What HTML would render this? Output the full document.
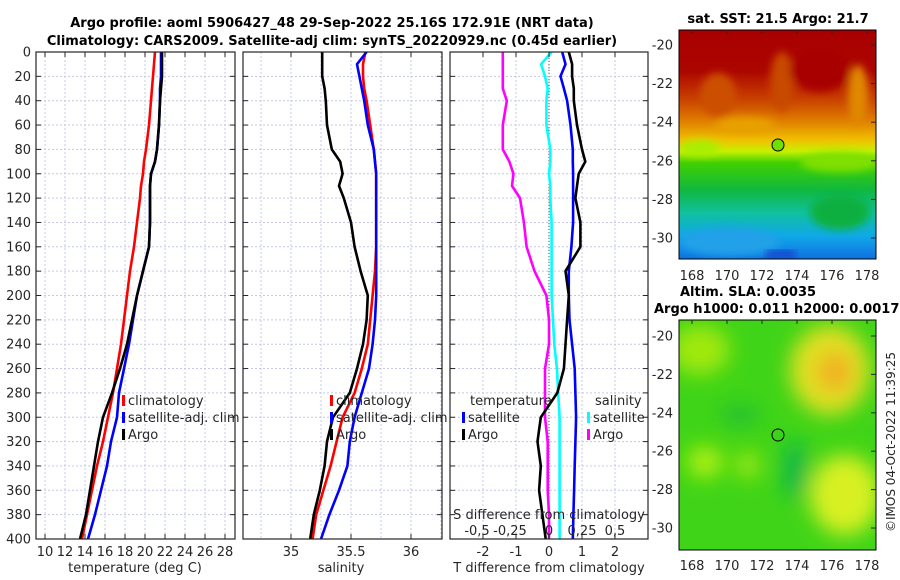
<!DOCTYPE html>
<html><head><meta charset="utf-8"><style>
html,body{margin:0;padding:0;background:#fff;width:900px;height:580px;overflow:hidden}
svg text{font-family:"DejaVu Sans","Liberation Sans",sans-serif;fill:#262626}
.b{font-weight:bold;fill:#000}
</style></head><body>
<svg id="fig" width="900" height="580" viewBox="0 0 900 580" xmlns="http://www.w3.org/2000/svg">
<defs>
<filter id="blur4"><feGaussianBlur stdDeviation="4"/></filter>
<filter id="blur10"><feGaussianBlur stdDeviation="10"/></filter>
<clipPath id="c1"><rect x="679" y="30" width="197" height="229"/></clipPath>
<clipPath id="c2"><rect x="679" y="320" width="197" height="230"/></clipPath>
<linearGradient id="sstg" x1="0" y1="0" x2="0" y2="1">
<stop offset="0" stop-color="#a80000"/><stop offset="0.18" stop-color="#ac0600"/>
<stop offset="0.3" stop-color="#c84000"/><stop offset="0.4" stop-color="#e08000"/>
<stop offset="0.48" stop-color="#f0c000"/><stop offset="0.53" stop-color="#c8f000"/>
<stop offset="0.58" stop-color="#40d000"/><stop offset="0.7" stop-color="#10b840"/>
<stop offset="0.8" stop-color="#10c0a0"/><stop offset="0.9" stop-color="#10a8e8"/>
<stop offset="1" stop-color="#1070e0"/></linearGradient>
</defs>
<g id="titles">
<text class="b" x="332" y="27" font-size="13" text-anchor="middle">Argo profile: aoml 5906427_48 29-Sep-2022 25.16S 172.91E (NRT data)</text>
<text class="b" x="332" y="45" font-size="13" text-anchor="middle">Climatology: CARS2009. Satellite-adj clim: synTS_20220929.nc (0.45d earlier)</text>
</g>
<g id="p1"></g><g id="p2"></g><g id="p3"></g>
<g id="map1">
<g clip-path="url(#c1)">
<rect x="679" y="30" width="197" height="229" fill="url(#sstg)"/>
<g filter="url(#blur4)">
<ellipse cx="718" cy="95" rx="18" ry="22" fill="#cc5000"/>
<ellipse cx="782" cy="82" rx="12" ry="30" fill="#c84800"/>
<ellipse cx="858" cy="95" rx="10" ry="30" fill="#e08800"/>
<ellipse cx="820" cy="70" rx="30" ry="22" fill="#a80000"/>
<ellipse cx="745" cy="125" rx="30" ry="8" fill="#e8a000"/>
<ellipse cx="840" cy="162" rx="40" ry="10" fill="#80e000"/>
<ellipse cx="840" cy="212" rx="30" ry="18" fill="#10b040"/>
<ellipse cx="730" cy="242" rx="50" ry="14" fill="#20a0e8"/>
<ellipse cx="700" cy="148" rx="20" ry="8" fill="#a8ee00"/>
</g>
<rect x="766" y="250" width="30" height="9" fill="#1848d0" filter="url(#blur4)"/>
</g>
<rect x="679" y="30" width="197" height="229" fill="none" stroke="#000" stroke-width="1"/>
<circle cx="778" cy="145" r="6" fill="#70e000" stroke="#000"/>
<text class="b" x="778" y="23" font-size="13" text-anchor="middle">sat. SST: 21.5 Argo: 21.7</text>
</g>
<g id="map2">
<g clip-path="url(#c2)">
<rect x="679" y="320" width="197" height="230" fill="#40d418"/>
<g filter="url(#blur10)">
<ellipse cx="830" cy="370" rx="40" ry="45" fill="#e0e020"/>
<ellipse cx="835" cy="372" rx="18" ry="20" fill="#f0b020"/>
<ellipse cx="845" cy="495" rx="35" ry="40" fill="#d8f020"/>
<ellipse cx="700" cy="350" rx="30" ry="25" fill="#a0e810"/>
<ellipse cx="705" cy="462" rx="18" ry="16" fill="#b0f010"/>
<ellipse cx="748" cy="465" rx="12" ry="14" fill="#a0ea10"/>
<ellipse cx="795" cy="470" rx="12" ry="30" fill="#10b848"/>
<ellipse cx="740" cy="415" rx="20" ry="10" fill="#20c030"/>
</g>
</g>
<rect x="679" y="320" width="197" height="230" fill="none" stroke="#000" stroke-width="1"/>
<circle cx="778" cy="435" r="6" fill="none" stroke="#000"/>
<text class="b" x="680" y="296" font-size="13">Altim. SLA: 0.0035</text>
<text class="b" x="654" y="313" font-size="13">Argo h1000: 0.011 h2000: 0.0017</text>
</g>
<text transform="translate(895,442) rotate(-90)" font-size="12" text-anchor="middle">©IMOS 04-Oct-2022 11:39:25</text>
</svg>
<script>
const depths=[0,10,20,30,40,60,80,90,100,110,120,140,160,180,200,220,240,260,280,300,320,340,360,380,400];
const tempArgo=[21.7,21.7,21.7,21.6,21.5,21.4,21.2,21.0,20.6,20.5,20.5,20.5,20.4,19.8,19.2,18.7,18.2,17.5,16.7,15.8,15.3,14.9,14.5,14.1,13.5];
const tempClim=[21.0,20.9,20.8,20.7,20.6,20.4,20.1,19.9,19.8,19.6,19.5,19.2,18.9,18.5,18.2,17.9,17.6,17.2,16.8,16.3,15.8,15.2,14.7,14.2,13.7];
const tempSat=[21.6,21.6,21.6,21.5,21.5,21.4,21.2,21.0,20.6,20.5,20.5,20.5,20.4,19.8,19.2,18.8,18.4,17.9,17.4,17.2,16.6,16.2,15.6,15.0,14.3];
const salArgo=[35.26,35.26,35.26,35.28,35.29,35.30,35.34,35.41,35.43,35.40,35.44,35.50,35.53,35.58,35.64,35.63,35.60,35.55,35.49,35.35,35.30,35.28,35.24,35.19,35.16];
const salClim=[35.62,35.60,35.60,35.61,35.63,35.66,35.69,35.70,35.71,35.71,35.71,35.71,35.71,35.70,35.68,35.66,35.64,35.59,35.53,35.43,35.38,35.33,35.27,35.21,35.18];
const salSat=[35.63,35.55,35.57,35.59,35.61,35.64,35.69,35.70,35.71,35.71,35.71,35.71,35.71,35.71,35.71,35.70,35.68,35.65,35.59,35.53,35.49,35.47,35.40,35.32,35.25];
const dTArgo=[0.6,0.7,0.7,0.75,0.75,0.85,1.0,1.1,0.9,0.85,0.8,0.95,0.95,0.5,0.6,0.55,0.5,0.45,0.25,-0.25,-0.35,-0.25,-0.3,-0.2,-0.1];
const dTSat=[0.4,0.5,0.35,0.45,0.55,0.65,0.72,0.72,0.73,0.73,0.73,0.73,0.68,0.6,0.6,0.62,0.7,0.78,0.8,0.82,0.8,0.78,0.76,0.74,0.72];
const dSSat=[0.02,-0.06,-0.03,-0.01,-0.02,-0.02,0.01,0.01,0,0.01,0.01,0.02,0.02,0.02,0.02,0.03,0.04,0.06,0.07,0.08,0.08,0.08,0.08,0.08,0.08];
const dSArgo=[-0.35,-0.35,-0.35,-0.35,-0.32,-0.35,-0.35,-0.3,-0.27,-0.28,-0.22,-0.19,-0.17,-0.11,-0.02,0,0,-0.03,-0.03,-0.03,-0.01,-0.01,-0.01,0,0];
const tTicks=[10,12,14,16,18,20,22,24,26,28];
const sTicks=[35,35.5,36];
const dTTicks=[-2,-1,0,1,2];
const dSTicks=[-0.5,-0.25,0,0.25,0.5];
const dSTickLabels=["-0,5","-0,25","0","0,25","0,5"];
const depthTicks=[0,20,40,60,80,100,120,140,160,180,200,220,240,260,280,300,320,340,360,380,400];
const latTicks=[-20,-22,-24,-26,-28,-30];
const lonTicks=[168,170,172,174,176,178];

const NS='http://www.w3.org/2000/svg';
const Y0=52,Y1=539;
const yD=d=>Y0+(d/400)*(Y1-Y0);
function mk(tag,attrs,parent){const e=document.createElementNS(NS,tag);for(const k in attrs)e.setAttribute(k,attrs[k]);parent.appendChild(e);return e;}
function txt(parent,x,y,s,anchor,size){const t=mk('text',{x:x,y:y,'font-size':size||12,'text-anchor':anchor||'middle'},parent);t.textContent=s;return t;}
function frame(g,x0,x1,gridXs,yTicksLabels){
  depthTicks.forEach(d=>{const l=mk('line',{x1:x0,x2:x1,y1:yD(d),y2:yD(d),stroke:'#c4c8e6','stroke-dasharray':'2,2','stroke-width':1},g);
    });
  gridXs.forEach(x=>{const l=mk('line',{x1:x,x2:x,y1:Y0,y2:Y1,stroke:'#c4c8e6','stroke-dasharray':'2,2','stroke-width':1},g);
    });
  depthTicks.forEach(d=>{mk('line',{x1:x0,x2:x0+5,y1:yD(d),y2:yD(d),stroke:'#262626'},g);mk('line',{x1:x1-5,x2:x1,y1:yD(d),y2:yD(d),stroke:'#262626'},g);
    if(yTicksLabels){const t=txt(g,x0-5,yD(d)+4.5,String(d),'end',13);}});
}
function border(g,x0,x1,name){const r=mk('rect',{x:x0,y:Y0,width:x1-x0,height:Y1-Y0,fill:'none',stroke:'#262626','stroke-width':1.2},g);
  }
function line(g,vals,fx,color,name,w){const pts=vals.map((v,i)=>fx(v).toFixed(1)+','+yD(depths[i]).toFixed(1)).join(' ');
  const p=mk('polyline',{points:pts,fill:'none',stroke:color,'stroke-width':w||2.6,'stroke-linejoin':'round'},g);
  }
function legItem(g,x,y,color,label,name){const r=mk('rect',{x:x,y:y-10,width:3,height:11,fill:color},g);
  
  const t=txt(g,x+6,y,label,'start',13);}

(function(){const g=document.getElementById('p1');
const x0=36,x1=235,fx=t=>45+(t-10)*10;
frame(g,x0,x1,tTicks.map(fx),true);
line(g,tempClim,fx,'#ff0000','temperature-climatology-line');
line(g,tempSat,fx,'#0000ff','temperature-satellite-line');
line(g,tempArgo,fx,'#000000','temperature-argo-line');
border(g,x0,x1,'temperature-axes');
tTicks.forEach(t=>{mk('line',{x1:fx(t),x2:fx(t),y1:Y1,y2:Y1-5,stroke:'#262626'},g);mk('line',{x1:fx(t),x2:fx(t),y1:Y0,y2:Y0+5,stroke:'#262626'},g);
 const l=txt(g,fx(t),556,String(t),'middle',13);});
const xl=txt(g,135,572,'temperature (deg C)','middle',13);
legItem(g,122,405,'#ff0000','climatology','legend-climatology');
legItem(g,122,422,'#0000ff','satellite-adj. clim','legend-satellite-adj');
legItem(g,122,439,'#000000','Argo','legend-argo');
})();
(function(){const g=document.getElementById('p2');
const x0=243,x1=442,fx=s=>291+(s-35)*120;
frame(g,x0,x1,[34.75,35,35.25,35.5,35.75,36,36.25].map(fx).filter(x=>x>x0&&x<x1),false);
line(g,salClim,fx,'#ff0000','salinity-climatology-line');
line(g,salSat,fx,'#0000ff','salinity-satellite-line');
line(g,salArgo,fx,'#000000','salinity-argo-line');
border(g,x0,x1,'salinity-axes');
sTicks.forEach(s=>{mk('line',{x1:fx(s),x2:fx(s),y1:Y1,y2:Y1-5,stroke:'#262626'},g);mk('line',{x1:fx(s),x2:fx(s),y1:Y0,y2:Y0+5,stroke:'#262626'},g);
 const l=txt(g,fx(s),556,String(s),'middle',13);});
const xl=txt(g,341,572,'salinity','middle',13);
legItem(g,330,405,'#ff0000','climatology','legend-climatology-s');
legItem(g,330,422,'#0000ff','satellite-adj. clim','legend-satellite-adj-s');
legItem(g,330,439,'#000000','Argo','legend-argo-s');
})();
(function(){const g=document.getElementById('p3');
const x0=450,x1=648,fT=t=>549+t*33,fS=s=>549+s*132;
frame(g,x0,x1,dTTicks.map(fT),false);
const z=mk('line',{x1:549,x2:549,y1:Y0,y2:Y1,stroke:'#555','stroke-dasharray':'1,2'},g);
line(g,dSSat,fS,'#00ffff','salinity-diff-satellite-line');
line(g,dSArgo,fS,'#ff00ff','salinity-diff-argo-line');
line(g,dTSat,fT,'#0000ff','temperature-diff-satellite-line');
line(g,dTArgo,fT,'#000000','temperature-diff-argo-line');
border(g,x0,x1,'difference-axes');
dTTicks.forEach(t=>{mk('line',{x1:fT(t),x2:fT(t),y1:Y1,y2:Y1-5,stroke:'#262626'},g);mk('line',{x1:fT(t),x2:fT(t),y1:Y0,y2:Y0+5,stroke:'#262626'},g);
 const l=txt(g,fT(t),556,String(t),'middle',13);});
dSTicks.forEach((s,i)=>{const l=txt(g,fS(s)-(s<0?6:0),535,dSTickLabels[i],'middle',13);});
const sl=txt(g,549,519,'S difference from climatology','middle',13);
const xl=txt(g,549,572,'T difference from climatology','middle',13);
const h1=txt(g,470,405,'temperature','start',13);
legItem(g,462,422,'#0000ff','satellite','legend-t-satellite');
legItem(g,462,439,'#000000','Argo','legend-t-argo');
const h2=txt(g,595,405,'salinity','start',13);
legItem(g,587,422,'#00ffff','satellite','legend-s-satellite');
legItem(g,587,439,'#ff00ff','Argo','legend-s-argo');
})();
function mapAxes(id,top,bot,lat20y,lat30y,lonLabelY){const g=document.getElementById(id);
 const fy=l=>lat20y+(-20-l)*(lat30y-lat20y)/10, fx=l=>692+(l-168)*17.5;
 latTicks.forEach(l=>{mk('line',{x1:876,x2:871,y1:fy(l),y2:fy(l),stroke:'#262626'},g);
  const t=txt(g,673,fy(l)+4.5,String(l),'end',13);});
 lonTicks.forEach(l=>{mk('line',{x1:fx(l),x2:fx(l),y1:top,y2:top+4,stroke:'#262626'},g);
  const t=txt(g,fx(l),lonLabelY,String(l),'middle',13);});
}
mapAxes('map1',30,259,45,238,280);
mapAxes('map2',320,550,336,528,570);
</script>
</body></html>
